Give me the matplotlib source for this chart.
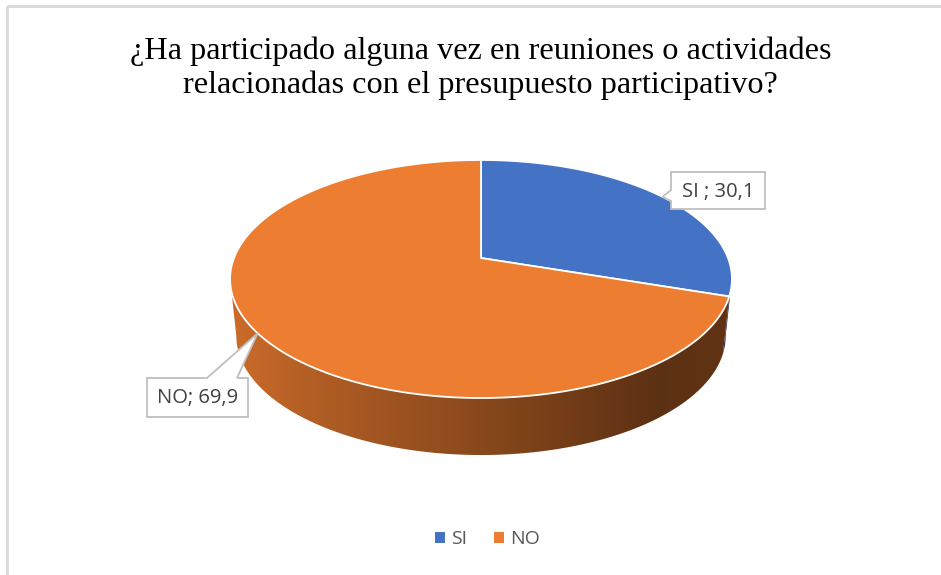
import numpy as np
import matplotlib
matplotlib.use("Agg")
import matplotlib.pyplot as plt
from matplotlib.patches import Polygon, Rectangle, Patch
from matplotlib.colors import to_rgb

# data
categories = ["SI ", "NO"]
values = [30.1, 69.9]
colors = ["#4472C4", "#ED7D31"]
title = "¿Ha participado alguna vez en reuniones o actividades\nrelacionadas con el presupuesto participativo?"

# pie geometry (pixel space)
CX, CY = 481, 258
RX, RY = 247, 115.3
K = 0.1765      # perspective
DEPTH = 57

def proj(theta):
    t = np.radians(theta)
    u, v = np.sin(t), np.cos(t)
    w = 1 + K * v
    return CX + RX * u / w, CY - RY * v / w

def proj_bottom(theta):
    x, y = proj(theta)
    return CX + (x - CX) * 0.975, y + DEPTH

fig = plt.figure(figsize=(9.41, 5.75), dpi=100)
ax = fig.add_axes([0, 0, 1, 1])
ax.set_xlim(0, 941)
ax.set_ylim(575, 0)
ax.axis("off")

# chart border
ax.add_patch(Rectangle((7, 6), 960, 600, fill=False, edgecolor="#d9d9d9", lw=2))

total = sum(values)
angles = np.cumsum([0] + [v / total * 360 for v in values])

# silhouette angles (front visible rim)
t_sil = np.degrees(np.arccos(-K))
front = (t_sil, 360 - t_sil)

# side walls
for i, col in enumerate(colors):
    a0 = max(angles[i], front[0])
    a1 = min(angles[i + 1], front[1])
    if a1 <= a0:
        continue
    th = np.linspace(a0, a1, 200)
    xt, yt = proj(th)
    xb, yb = proj_bottom(th[::-1])
    pts = np.column_stack([np.r_[xt, xb], np.r_[yt, yb]])
    poly = Polygon(pts, closed=True, facecolor="none", edgecolor="none")
    ax.add_patch(poly)
    base = np.array(to_rgb(col))
    xs = np.linspace(0, 1, 400)
    fac = np.interp(xs, [0, 0.15, 0.55, 0.85, 1.0], [0.86, 0.76, 0.55, 0.39, 0.41])
    grad = (base[None, :] * fac[:, None])[None, :, :]
    im = ax.imshow(grad, extent=(CX - RX - 5, CX + RX + 5, 470, 250),
                   aspect="auto", zorder=1, interpolation="bilinear")
    im.set_clip_path(poly)

# top faces
for i, col in enumerate(colors):
    th = np.linspace(angles[i], angles[i + 1], 300)
    xt, yt = proj(th)
    pts = np.column_stack([np.r_[CX, xt], np.r_[CY, yt]])
    ax.add_patch(Polygon(pts, closed=True, facecolor=col, edgecolor="white",
                         lw=1.3, zorder=3, joinstyle="round"))

# callout labels
lab_font = dict(family="Open Sans", size=14.5, color="#404040")
box_edge = "#bfbfbf"

def callout(box, base_pts, tip, text):
    x0, y0, x1, y1 = box
    pts = [(x0, y0), (x1, y0), (x1, y1), (x0, y1)]
    side, b0, b1 = base_pts
    if side == "left":
        pts = [(x0, y0), (x1, y0), (x1, y1), (x0, y1), (x0, b1), tip, (x0, b0)]
    elif side == "top":
        pts = [(x0, y0), (b0, y0), tip, (b1, y0), (x1, y0), (x1, y1), (x0, y1)]
    ax.add_patch(Polygon(pts, closed=True, facecolor="white", edgecolor=box_edge,
                         lw=1.3, zorder=5))
    ax.text((x0 + x1) / 2, (y0 + y1) / 2 + 1, text, ha="center", va="center",
            zorder=6, **lab_font)

labels = [f"{c}; {str(v).replace('.', ',')}" for c, v in zip(categories, values)]
mids = [(angles[i] + angles[i + 1]) / 2 for i in range(len(values))]

tip0 = proj(mids[0])
callout((671, 172, 765, 209), ("left", 190, 201), tip0, labels[0])
tip1 = proj(mids[1])
callout((147, 378, 248, 417), ("top", 207, 237), tip1, labels[1])

# title
fig.text(0.511, 1 - 68 / 575, title, ha="center", va="center",
         family="Liberation Serif", size=23.2, color="#000000", linespacing=1.22)

# legend
handles = [Patch(facecolor=c, edgecolor="none") for c in colors]
leg = ax.legend(handles, [c.strip() for c in categories], loc="center",
                bbox_to_anchor=(0.518, 1 - 539 / 575), ncol=2, frameon=False,
                handlelength=0.5, handleheight=0.5, handletextpad=0.3,
                columnspacing=1.4, prop={"family": "Open Sans", "size": 14})
for t in leg.get_texts():
    t.set_color("#595959")

fig.savefig("out.png", dpi=100)
